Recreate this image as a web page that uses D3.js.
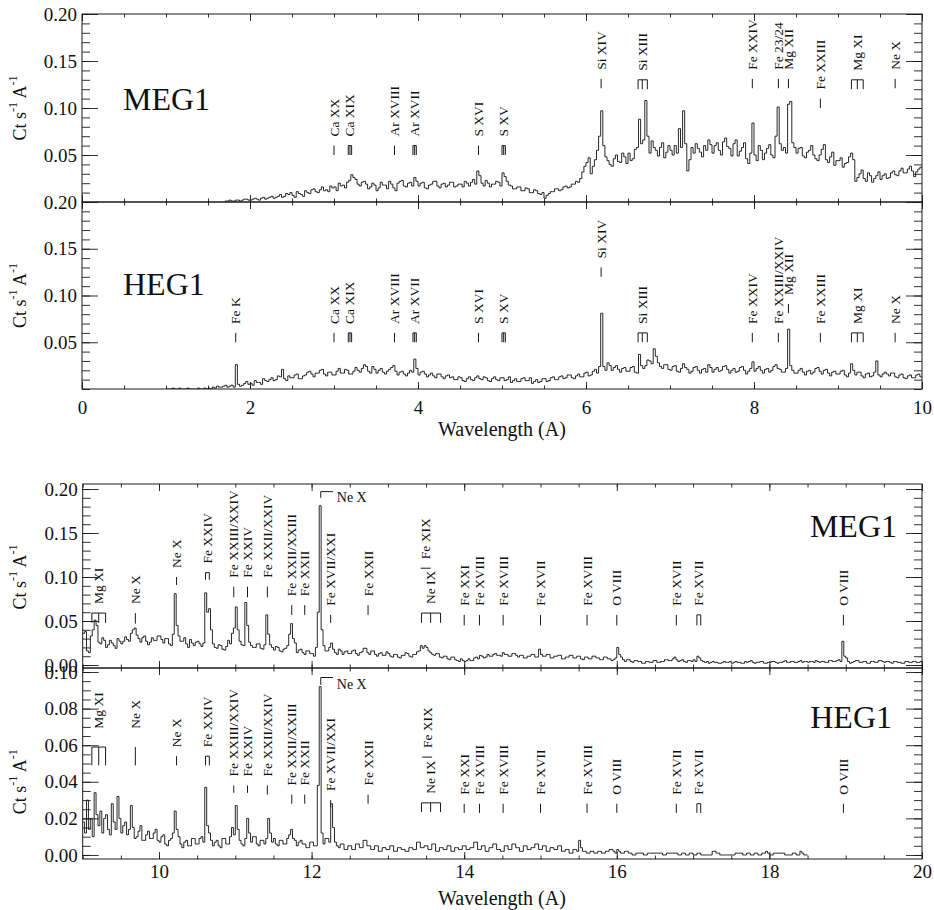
<!DOCTYPE html>
<html>
<head>
<meta charset="utf-8">
<script src="https://cdn.jsdelivr.net/npm/d3@7"></script>
<style>
  body { margin: 0; background: #fff; }
  text { font-family: "Liberation Serif", "Times New Roman", serif; fill: #111; }
</style>
</head>
<body>
<svg id="chart" width="934" height="910"></svg>
<script>
// ---------------------------------------------------------------------------
// Spectra (counts s^-1 A^-1), binned at 0.025 A
// ---------------------------------------------------------------------------
const binWidth = 0.025;

const megShortStart = 1.70;
const megShort = [
  .001,.001,.002,.001,.001,.002,.002,.001,.002,.003,.003,.002,
  .002,.003,.004,.003,.002,.004,.005,.003,.004,.005,.006,.004,.005,.006,.008,.005,.006,.009,.008,.010,
  .007,.005,.011,.009,.008,.006,.012,.010,.009,.013,.014,.011,.010,.013,.016,.012,.013,.011,.017,.015,
  .016,.012,.020,.017,.018,.015,.021,.023,.029,.026,.024,.019,.017,.021,.022,.019,.014,.016,.020,.018,
  .012,.015,.021,.018,.018,.014,.022,.019,.015,.012,.020,.022,.023,.017,.016,.020,.021,.017,.026,.022,
  .017,.020,.021,.015,.014,.018,.019,.022,.022,.017,.015,.019,.020,.016,.018,.021,.021,.016,.017,.019,
  .019,.016,.022,.020,.017,.021,.024,.019,.033,.028,.020,.017,.023,.020,.016,.019,.019,.022,.021,.017,
  .031,.027,.022,.018,.017,.014,.014,.016,.016,.012,.012,.015,.014,.010,.010,.013,.012,.009,.008,.010,
  .004,.007,.009,.011,.011,.014,.014,.012,.013,.016,.017,.015,.016,.019,.019,.022,.021,.025,.032,.038,
  .042,.047,.030,.038,.045,.055,.070,.097,.060,.048,.044,.040,.038,.046,.050,.043,.042,.052,.048,.041,
  .052,.044,.046,.056,.058,.088,.062,.066,.108,.070,.052,.065,.058,.055,.049,.058,.063,.047,.053,.060,
  .055,.050,.060,.052,.078,.058,.097,.062,.033,.045,.058,.052,.062,.057,.053,.048,.060,.055,.066,.061,
  .052,.060,.063,.055,.050,.064,.068,.059,.057,.049,.062,.066,.049,.054,.058,.063,.046,.041,.052,.084,
  .050,.044,.060,.055,.045,.052,.057,.061,.050,.047,.070,.101,.062,.055,.058,.052,.104,.107,.063,.058,
  .052,.057,.058,.049,.047,.053,.055,.060,.050,.046,.044,.050,.056,.061,.045,.042,.048,.053,.039,.044,
  .044,.047,.037,.041,.042,.048,.052,.045,.022,.026,.030,.034,.025,.022,.031,.028,.021,.025,.028,.032,
  .024,.028,.030,.025,.026,.031,.033,.029,.028,.033,.036,.031,.031,.035,.038,.033,.027,.032,.035,.037
];

const hegShortStart = 1.00;
const hegShort = [
  0,0,0,.001,0,0,.001,0,0,0,.001,0,0,0,0,.001,0,0,.001,0,
  .001,0,.002,.001,.003,.002,.002,.003,.004,.002,.003,.004,.002,.026,.005,.003,.004,.006,.008,.005,
  .006,.004,.009,.007,.007,.005,.011,.009,.008,.010,.012,.009,.010,.014,.013,.021,.011,.009,.014,.012,
  .012,.015,.016,.011,.011,.014,.015,.018,.019,.016,.013,.017,.017,.020,.021,.016,.014,.018,.018,.015,
  .015,.019,.022,.017,.017,.021,.020,.016,.016,.019,.023,.020,.018,.022,.026,.024,.019,.017,.024,.021,
  .017,.020,.022,.018,.016,.019,.021,.023,.025,.019,.015,.018,.019,.016,.014,.017,.020,.018,.032,.022,
  .015,.018,.019,.016,.013,.015,.017,.014,.012,.016,.016,.013,.011,.014,.015,.012,.013,.010,.010,.013,
  .012,.009,.008,.011,.013,.010,.009,.012,.014,.011,.010,.013,.012,.009,.008,.011,.013,.010,.009,.012,
  .012,.009,.010,.013,.007,.009,.011,.008,.008,.011,.012,.009,.009,.012,.006,.008,.010,.007,.008,.011,
  .011,.008,.009,.012,.013,.010,.010,.013,.014,.011,.012,.015,.015,.012,.011,.014,.016,.013,.013,.017,
  .018,.014,.015,.019,.021,.017,.024,.081,.024,.020,.028,.025,.020,.023,.025,.021,.018,.022,.023,.019,
  .019,.023,.024,.018,.017,.037,.025,.022,.025,.031,.030,.027,.043,.035,.028,.024,.022,.026,.026,.021,
  .020,.024,.025,.019,.018,.022,.027,.023,.021,.017,.019,.023,.024,.020,.017,.021,.022,.018,.026,.023,
  .018,.021,.023,.019,.020,.024,.025,.021,.017,.020,.022,.018,.019,.023,.024,.020,.016,.019,.022,.029,
  .019,.022,.024,.020,.017,.021,.022,.018,.020,.024,.026,.022,.021,.018,.018,.022,.064,.025,.020,.017,
  .017,.020,.022,.018,.015,.019,.020,.016,.018,.022,.023,.019,.016,.020,.021,.017,.014,.018,.019,.016,
  .016,.019,.020,.015,.013,.017,.027,.020,.015,.018,.018,.014,.012,.016,.017,.013,.014,.018,.030,.015,
  .013,.016,.018,.016,.014,.017,.017,.013,.012,.015,.016,.012,.011,.014,.015,.012,.012,.015,.016,.013
];

const megLongStart = 9.00;
const megLong = [
  .036,.038,.016,.014,.033,.040,.051,.045,.026,.024,.031,.028,.020,.023,.028,.025,.022,.019,.030,.027,
  .024,.027,.032,.029,.027,.036,.040,.042,.034,.030,.026,.031,.033,.027,.023,.026,.031,.028,.028,.033,
  .033,.029,.025,.030,.030,.024,.022,.035,.081,.045,.033,.027,.027,.031,.024,.020,.029,.025,.022,.026,
  .027,.024,.021,.025,.082,.060,.064,.040,.024,.020,.019,.023,.022,.018,.017,.021,.028,.024,.036,.042,
  .066,.040,.027,.023,.022,.071,.045,.026,.022,.020,.020,.024,.024,.019,.018,.023,.057,.035,.023,.020,
  .017,.021,.020,.016,.015,.018,.019,.022,.035,.047,.030,.025,.014,.017,.018,.014,.012,.016,.016,.013,
  .013,.010,.020,.060,.181,.040,.022,.016,.016,.020,.025,.018,.014,.012,.018,.016,.012,.015,.016,.013,
  .013,.016,.017,.013,.011,.014,.015,.019,.019,.014,.012,.016,.016,.012,.010,.013,.014,.011,.011,.015,
  .013,.010,.009,.012,.012,.009,.008,.011,.011,.014,.013,.010,.009,.012,.012,.015,.016,.022,.019,.022,
  .020,.016,.014,.012,.011,.013,.013,.009,.008,.010,.010,.007,.006,.009,.009,.006,.005,.004,.007,.005,
  .004,.005,.007,.005,.005,.008,.009,.007,.011,.010,.008,.009,.012,.010,.010,.012,.013,.011,.011,.010,
  .014,.012,.012,.010,.010,.013,.013,.011,.009,.011,.011,.008,.008,.010,.010,.012,.012,.009,.009,.018,
  .012,.010,.010,.012,.012,.008,.008,.010,.010,.011,.011,.007,.007,.009,.009,.011,.011,.008,.008,.010,
  .010,.007,.006,.009,.009,.007,.007,.010,.010,.008,.008,.006,.006,.009,.009,.007,.007,.005,.006,.008,
  .020,.012,.009,.006,.004,.006,.006,.004,.003,.005,.005,.004,.004,.002,.002,.004,.004,.003,.003,.005,
  .005,.003,.003,.004,.004,.006,.006,.005,.005,.007,.009,.006,.004,.005,.006,.004,.003,.005,.005,.004,
  .006,.004,.010,.008,.005,.004,.003,.004,.002,.003,.004,.003,.003,.002,.002,.003,.004,.003,.003,.004,
  .002,.003,.004,.003,.003,.002,.002,.004,.003,.004,.005,.003,.002,.003,.003,.004,.004,.002,.002,.003,
  .003,.004,.004,.003,.002,.003,.003,.004,.005,.003,.003,.004,.004,.003,.003,.004,.005,.003,.004,.004,
  .003,.004,.004,.003,.005,.004,.003,.004,.004,.003,.003,.005,.005,.004,.004,.005,.006,.004,.027,.010,
  .008,.004,.002,.003,.004,.005,.005,.003,.003,.004,.004,.002,.002,.004,.004,.003,.003,.005,.005,.004,
  .003,.004,.004,.003,.002,.004,.004,.003,.003,.002,.002,.004,.004,.003,.003,.004,.004,.003,.003,.004
];

const hegLongStart = 9.00;
const hegLong = [
  .018,.012,.030,.014,.020,.010,.034,.022,.016,.024,.012,.020,.022,.014,.011,.028,.018,.014,.032,.020,
  .012,.016,.018,.011,.014,.027,.015,.009,.010,.013,.016,.008,.008,.011,.013,.009,.009,.012,.014,.008,
  .007,.010,.011,.006,.005,.008,.009,.012,.024,.014,.010,.006,.004,.007,.008,.005,.005,.009,.009,.006,
  .006,.009,.010,.007,.037,.016,.012,.008,.005,.007,.008,.005,.004,.009,.009,.006,.006,.010,.015,.011,
  .027,.014,.008,.006,.005,.009,.020,.012,.007,.010,.010,.006,.005,.008,.008,.006,.009,.020,.012,.007,
  .009,.006,.005,.008,.008,.006,.006,.009,.011,.014,.009,.008,.005,.007,.008,.006,.006,.004,.004,.007,
  .007,.005,.005,.038,.092,.012,.006,.009,.009,.007,.028,.015,.007,.005,.004,.006,.006,.003,.003,.005,
  .005,.003,.003,.006,.006,.004,.004,.008,.008,.005,.005,.003,.003,.005,.005,.002,.002,.004,.004,.003,
  .003,.005,.005,.002,.002,.004,.004,.003,.003,.002,.002,.004,.004,.003,.003,.007,.007,.004,.004,.005,
  .005,.003,.003,.006,.006,.002,.002,.004,.004,.003,.003,.005,.005,.002,.002,.004,.004,.003,.003,.005,
  .005,.003,.003,.004,.004,.007,.007,.003,.003,.005,.005,.002,.002,.004,.004,.006,.006,.003,.003,.002,
  .002,.005,.005,.003,.003,.006,.006,.004,.004,.002,.002,.005,.005,.003,.003,.004,.004,.006,.006,.003,
  .003,.005,.005,.002,.002,.004,.004,.003,.003,.005,.005,.002,.002,.003,.003,.001,.001,.003,.003,.002,
  .008,.004,.002,.002,.001,.001,.002,.002,.001,.001,.002,.002,.001,.001,.002,.002,.003,.003,.002,.001,
  .003,.002,.001,.001,.002,.002,.001,.001,0,0,.001,.001,.001,.001,0,0,.001,.001,.001,.001,
  .001,.001,.001,.001,0,0,.001,.001,.001,.001,.001,.001,0,0,.001,.001,0,0,.001,.001,
  0,0,.001,.001,0,0,0,0,0,0,.002,.002,.001,.001,0,0,0,0,0,0,
  0,0,.001,.001,.001,.001,0,0,.001,.001,0,0,.001,.001,0,0,.001,.001,.002,.001,
  0,0,.001,.001,.001,.001,.001,.001,0,0,0,0,.001,.001,0,0,.002,.001,0,0
];

// ---------------------------------------------------------------------------
// Line identifications: [label, wavelengths, marker bottom, marker top, text start]
// (levels in count-rate units of each panel)
// ---------------------------------------------------------------------------
const shortMegLines = [
  ["Ca XX", [3.00], .050, .060],
  ["Ca XIX", [3.17, 3.19, 3.21], .050, .060],
  ["Ar XVIII", [3.72], .050, .060],
  ["Ar XVII", [3.94, 3.96, 3.98], .050, .060],
  ["S XVI", [4.72], .050, .060],
  ["S XV", [5.00, 5.02, 5.04], .050, .060],
  ["Si XIV", [6.18], .121, .131],
  ["Si XIII", [6.62, 6.67, 6.73], .120, .130],
  ["Fe XXIV", [7.98], .121, .131],
  ["Fe 23/24", [8.29], .121, .131],
  ["Mg XII", [8.41], .121, .131],
  ["Fe XXIII", [8.79], .100, .110],
  ["Mg XI", [9.16, 9.23, 9.30], .120, .130],
  ["Ne X", [9.68], .121, .131]
];

const shortHegLines = [
  ["Fe K", [1.83], .050, .060],
  ["Ca XX", [3.00], .050, .060],
  ["Ca XIX", [3.17, 3.19, 3.21], .050, .060],
  ["Ar XVIII", [3.72], .050, .060],
  ["Ar XVII", [3.94, 3.96, 3.98], .050, .060],
  ["S XVI", [4.72], .050, .060],
  ["S XV", [5.00, 5.02, 5.04], .050, .060],
  ["Si XIV", [6.18], .120, .130],
  ["Si XIII", [6.62, 6.67, 6.73], .050, .060],
  ["Fe XXIV", [7.98], .050, .060],
  ["Fe XXIII/XXIV", [8.29], .050, .060],
  ["Mg XII", [8.41], .081, .091],
  ["Fe XXIII", [8.79], .050, .060],
  ["Mg XI", [9.16, 9.23, 9.30], .050, .060],
  ["Ne X", [9.68], .050, .060]
];

const longMegLines = [
  ["Mg XI", [9.12, 9.21, 9.30], .048, .059],
  ["Ne X", [9.69], .047, .059],
  ["Ne X", [10.23], .091, .100],
  ["Fe XXIV", [10.61, 10.66], .097, .105],
  ["Fe XXIII/XXIV", [10.98], .077, .089],
  ["Fe XXIV", [11.16], .077, .089],
  ["Fe XXII/XXIV", [11.42], .077, .089],
  ["Fe XXII/XXIII", [11.74], .057, .068],
  ["Fe XXII", [11.91], .057, .068],
  ["Fe XVII/XXI", [12.25], .048, .057],
  ["Fe XXII", [12.74], .057, .068],
  ["Fe XIX", [13.43, 13.56], .110, .110],
  ["Ne IX", [13.44, 13.56, 13.69], .048, .059],
  ["Fe XXI", [14.00], .045, .057],
  ["Fe XVIII", [14.20], .045, .057],
  ["Fe XVIII", [14.51], .045, .057],
  ["Fe XVII", [15.00], .045, .057],
  ["Fe XVIII", [15.61], .045, .057],
  ["O VIII", [16.00], .045, .057],
  ["Fe XVII", [16.78], .045, .057],
  ["Fe XVII", [17.05, 17.10], .045, .057],
  ["O VIII", [18.97], .045, .057]
];

const longHegLines = [
  ["Mg XI", [9.12, 9.21, 9.30], .049, .059, .069],
  ["Ne X", [9.69], .049, .059, .069],
  ["Ne X", [10.23], .049, .054],
  ["Fe XXIV", [10.61, 10.66], .049, .054],
  ["Fe XXIII/XXIV", [10.98], .034, .038],
  ["Fe XXIV", [11.16], .034, .038],
  ["Fe XXII/XXIV", [11.42], .033, .038],
  ["Fe XXII/XXIII", [11.74], .028, .033],
  ["Fe XXII", [11.91], .028, .033],
  ["Fe XVII/XXI", [12.25], .026, .030],
  ["Fe XXII", [12.74], .028, .033],
  ["Fe XIX", [13.45, 13.58], .0535, .0535],
  ["Ne IX", [13.44, 13.56, 13.69], .0235, .0285],
  ["Fe XXI", [14.00], .023, .028],
  ["Fe XVIII", [14.20], .023, .028],
  ["Fe XVIII", [14.51], .023, .028],
  ["Fe XVII", [15.00], .023, .028],
  ["Fe XVIII", [15.61], .023, .028],
  ["O VIII", [16.00], .023, .028],
  ["Fe XVII", [16.78], .023, .028],
  ["Fe XVII", [17.05, 17.10], .023, .028],
  ["O VIII", [18.97], .023, .028]
];

// Ne X Ly-alpha bracket (start, end of bracket, text start) in wavelength
const neXBracket = [12.12, 12.28, 12.33];

const shortXLabels = [0, 2, 4, 6, 8, 10];
const longXLabels = [10, 12, 14, 16, 18, 20];

// ---------------------------------------------------------------------------
// Layout
// ---------------------------------------------------------------------------
const svg = d3.select("#chart");
const ink = "#1a1a1a";

const panels = [
  { id: "a", values: megShort, start: megShortStart, xDomain: [0, 10], xRange: [82, 922],
    yDomain: [0, 0.2], yRange: [202, 14], yLabels: [.05, .10, .15, .20], yMinor: .01,
    name: "MEG1", nameAt: [123, 110, "start"], lines: shortMegLines, titleAt: .1 },
  { id: "b", values: hegShort, start: hegShortStart, xDomain: [0, 10], xRange: [82, 922],
    yDomain: [0, 0.2], yRange: [389, 202], yLabels: [.05, .10, .15, .20], yMinor: .01,
    name: "HEG1", nameAt: [123, 295, "start"], lines: shortHegLines, titleAt: .1,
    xLabels: shortXLabels, xPad: 12, xTitleY: 436 },
  { id: "c", values: megLong, start: megLongStart, xDomain: [9, 20], xRange: [82.7, 922],
    yDomain: [-0.0034, 0.2057], yRange: [668, 484], yLabels: [0, .05, .10, .15, .20], yMinor: .01,
    name: "MEG1", nameAt: [897, 537, "end"], lines: longMegLines, titleAt: .1,
    bracket: [.190, .197] },
  { id: "d", values: hegLong, start: hegLongStart, xDomain: [9, 20], xRange: [82.7, 922],
    yDomain: [-0.0022, 0.1022], yRange: [859, 668], yLabels: [0, .02, .04, .06, .08, .10], yMinor: .005,
    name: "HEG1", nameAt: [892, 728, "end"], lines: longHegLines, titleAt: .04,
    bracket: [.093, .097], xLabels: longXLabels, xPad: 6, xTitleY: 905 }
];

function styleAxis(sel) {
  sel.select(".domain").remove();
  sel.selectAll(".tick line").attr("stroke", ink).attr("stroke-width", 0.9);
  sel.attr("font-family", null).attr("font-size", null);
}

panels.forEach(p => {
  const x = d3.scaleLinear().domain(p.xDomain).range(p.xRange);
  const y = d3.scaleLinear().domain(p.yDomain).range(p.yRange);
  const [xl, xr] = p.xRange;
  const [yb, yt] = p.yRange;
  const g = svg.append("g");

  svg.append("clipPath").attr("id", "clip-" + p.id)
    .append("rect").attr("x", xl).attr("y", yt).attr("width", xr - xl).attr("height", yb - yt);

  // spectrum as a histogram step line
  const pts = p.values.map((v, i) => [p.start + i * binWidth, v]);
  pts.push([p.start + p.values.length * binWidth, p.values[p.values.length - 1]]);
  const line = d3.line().x(d => x(d[0])).y(d => y(d[1])).curve(d3.curveStepAfter);
  g.append("path")
    .attr("d", line(pts))
    .attr("clip-path", `url(#clip-${p.id})`)
    .attr("fill", "none")
    .attr("stroke", "#111")
    .attr("stroke-width", 0.9);

  // frame
  g.append("rect")
    .attr("x", xl).attr("y", yt).attr("width", xr - xl).attr("height", yb - yt)
    .attr("fill", "none").attr("stroke", ink).attr("stroke-width", 1);

  // tick values
  const xMinor = d3.range(Math.ceil(p.xDomain[0] / 0.5), Math.floor(p.xDomain[1] / 0.5) + 1).map(i => i * 0.5);
  const xMajor = xMinor.filter(v => v % 2 === 0);
  const yMinor = d3.range(Math.ceil(p.yDomain[0] / p.yMinor - 1e-6), Math.floor(p.yDomain[1] / p.yMinor + 1e-6) + 1)
    .map(i => +(i * p.yMinor).toFixed(4));

  // inward ticks on all four sides
  [[d3.axisBottom, yb], [d3.axisTop, yt]].forEach(([ax, pos]) => {
    g.append("g").attr("transform", `translate(0,${pos})`)
      .call(ax(x).tickValues(xMinor).tickSize(-3.5).tickFormat("")).call(styleAxis);
    g.append("g").attr("transform", `translate(0,${pos})`)
      .call(ax(x).tickValues(xMajor).tickSize(-7).tickFormat("")).call(styleAxis);
  });
  [[d3.axisLeft, xl], [d3.axisRight, xr]].forEach(([ax, pos]) => {
    g.append("g").attr("transform", `translate(${pos},0)`)
      .call(ax(y).tickValues(yMinor).tickSize(-8).tickFormat("")).call(styleAxis);
    g.append("g").attr("transform", `translate(${pos},0)`)
      .call(ax(y).tickValues(p.yLabels).tickSize(-16).tickFormat("")).call(styleAxis);
  });

  // y tick labels
  const yl = g.append("g").attr("transform", `translate(${xl},0)`)
    .call(d3.axisLeft(y).tickValues(p.yLabels).tickSize(0).tickPadding(5).tickFormat(d3.format(".2f")));
  yl.call(styleAxis);
  yl.selectAll("text").attr("font-size", 19).attr("fill", "#111");

  // y title
  const title = g.append("text")
    .attr("transform", `translate(20,${y(p.titleAt)}) rotate(-90)`)
    .attr("text-anchor", "middle")
    .attr("dominant-baseline", "central")
    .attr("font-size", 18);
  title.append("tspan").text("Ct s");
  title.append("tspan").attr("dy", -7).attr("font-size", 12).text("-1");
  title.append("tspan").attr("dy", 7).text(" A");
  title.append("tspan").attr("dy", -7).attr("font-size", 12).text("-1");

  // x tick labels and title (lower panel of each group)
  if (p.xLabels) {
    const xa = g.append("g").attr("transform", `translate(0,${yb})`)
      .call(d3.axisBottom(x).tickValues(p.xLabels).tickSize(0).tickPadding(p.xPad).tickFormat(d3.format("d")));
    xa.call(styleAxis);
    xa.selectAll("text").attr("font-size", 19).attr("fill", "#111");
    g.append("text")
      .attr("x", 502).attr("y", p.xTitleY)
      .attr("text-anchor", "middle")
      .attr("font-size", 20)
      .text("Wavelength (A)");
  }

  // instrument name
  g.append("text")
    .attr("x", p.nameAt[0]).attr("y", p.nameAt[1])
    .attr("text-anchor", p.nameAt[2])
    .attr("font-size", 32)
    .text(p.name);

  // line identifications
  p.lines.forEach(([label, waves, lo, hi, tl]) => {
    const xs = waves.map(w => x(w));
    const path = d3.path();
    if (lo !== hi) {
      xs.forEach(xx => { path.moveTo(xx, y(lo)); path.lineTo(xx, y(hi)); });
    }
    if (xs.length > 1) { path.moveTo(xs[0], y(hi)); path.lineTo(xs[xs.length - 1], y(hi)); }
    g.append("path").attr("d", path.toString())
      .attr("fill", "none").attr("stroke", ink).attr("stroke-width", 1);
    const ty = tl !== undefined ? y(tl) : y(hi) - 9;
    g.append("text")
      .attr("transform", `translate(${d3.mean(xs)},${ty}) rotate(-90)`)
      .attr("dominant-baseline", "central")
      .attr("font-size", 13.5)
      .text(label);
  });

  // Ne X bracket
  if (p.bracket) {
    const [lo, hi] = p.bracket;
    g.append("path")
      .attr("d", `M${x(neXBracket[0])},${y(lo)}V${y(hi)}H${x(neXBracket[1])}`)
      .attr("fill", "none").attr("stroke", ink).attr("stroke-width", 1);
    g.append("text")
      .attr("x", x(neXBracket[2])).attr("y", y(lo))
      .attr("dominant-baseline", "central")
      .attr("font-size", 14)
      .text("Ne X");
  }
});
</script>
</body>
</html>
